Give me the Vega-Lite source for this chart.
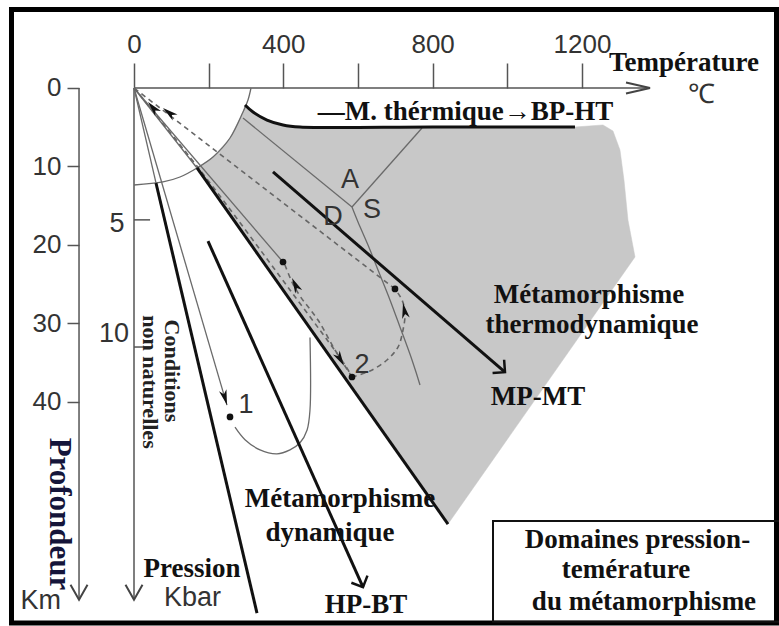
{
  "$schema": "https://vega.github.io/schema/vega-lite/v6.json",
  "width": 779,
  "height": 626,
  "autosize": {"type": "none"},
  "padding": 0,
  "background": "white",
  "config": {"view": {"stroke": null}},
  "datasets": {
    "poly": [
      {"i": 1, "x": 168.8, "y": 10.19}, {"i": 2, "x": 211.6, "y": 8.79}, {"i": 3, "x": 257.2, "y": 6.37},
      {"i": 4, "x": 292.0, "y": 3.06}, {"i": 5, "x": 297.4, "y": 2.17}, {"i": 6, "x": 318.8, "y": 3.06},
      {"i": 7, "x": 356.3, "y": 4.08}, {"i": 8, "x": 399.2, "y": 4.71}, {"i": 9, "x": 444.7, "y": 4.97},
      {"i": 10, "x": 1181.4, "y": 4.97}, {"i": 11, "x": 1256.5, "y": 4.71}, {"i": 12, "x": 1283.3, "y": 5.48},
      {"i": 13, "x": 1302.0, "y": 7.9}, {"i": 14, "x": 1312.7, "y": 11.72}, {"i": 15, "x": 1323.4, "y": 16.82},
      {"i": 16, "x": 1342.2, "y": 21.53}, {"i": 17, "x": 841.2, "y": 55.55}
    ],
    "thin": [
      {"id": "a0", "i": 1, "x": 0, "y": 0}, {"id": "a0", "i": 2, "x": 58.9, "y": 12.1},
      {"id": "d0", "i": 1, "x": 0, "y": 0}, {"id": "d0", "i": 2, "x": 168.8, "y": 10.19},
      {"id": "b", "i": 1, "x": 0, "y": 0}, {"id": "b", "i": 2, "x": 249.1, "y": 40.4},
      {"id": "e", "i": 1, "x": 0, "y": 0}, {"id": "e", "i": 2, "x": 399.2, "y": 22.17},
      {"id": "arc", "i": 1, "x": 313.4, "y": 0}, {"id": "arc", "i": 2, "x": 305.4, "y": 1.53},
      {"id": "arc", "i": 3, "x": 292.0, "y": 3.06}, {"id": "arc", "i": 4, "x": 257.2, "y": 6.37},
      {"id": "arc", "i": 5, "x": 211.6, "y": 8.79}, {"id": "arc", "i": 6, "x": 168.8, "y": 10.19},
      {"id": "arc", "i": 7, "x": 123.2, "y": 11.34}, {"id": "arc", "i": 8, "x": 77.7, "y": 11.97},
      {"id": "arc", "i": 9, "x": 0, "y": 12.36},
      {"id": "as", "i": 1, "x": 292, "y": 3.82}, {"id": "as", "i": 2, "x": 584, "y": 15.16},
      {"id": "ks", "i": 1, "x": 584, "y": 15.16}, {"id": "ks", "i": 2, "x": 771.6, "y": 5.1},
      {"id": "sd", "i": 1, "x": 584, "y": 15.16}, {"id": "sd", "i": 2, "x": 600.1, "y": 17.07},
      {"id": "sd", "i": 3, "x": 626.9, "y": 20.0}, {"id": "sd", "i": 4, "x": 653.7, "y": 23.19},
      {"id": "sd", "i": 5, "x": 685.8, "y": 27.0}, {"id": "sd", "i": 6, "x": 712.6, "y": 30.45},
      {"id": "sd", "i": 7, "x": 744.8, "y": 34.65}, {"id": "sd", "i": 8, "x": 766.2, "y": 37.84},
      {"id": "r1", "i": 1, "x": 270.6, "y": 43.2}, {"id": "r1", "i": 2, "x": 297.4, "y": 44.8},
      {"id": "r1", "i": 3, "x": 337.6, "y": 46.1}, {"id": "r1", "i": 4, "x": 383.1, "y": 46.6},
      {"id": "r1", "i": 5, "x": 417.9, "y": 46.1}, {"id": "r1", "i": 6, "x": 444.7, "y": 45.2},
      {"id": "r1", "i": 7, "x": 463.5, "y": 43.6}, {"id": "r1", "i": 8, "x": 471.5, "y": 41.0},
      {"id": "r1", "i": 9, "x": 471.5, "y": 31.8}
    ],
    "dash": [
      {"id": "pA", "i": 1, "x": 0, "y": 0}, {"id": "pA", "i": 2, "x": 176.8, "y": 10.45},
      {"id": "pA", "i": 3, "x": 417.9, "y": 25.73}, {"id": "pA", "i": 4, "x": 565.3, "y": 35.29},
      {"id": "pA", "i": 5, "x": 584, "y": 36.82},
      {"id": "pB", "i": 1, "x": 584, "y": 36.82}, {"id": "pB", "i": 2, "x": 538.5, "y": 33.38},
      {"id": "pB", "i": 3, "x": 492.9, "y": 29.56}, {"id": "pB", "i": 4, "x": 444.7, "y": 26.5},
      {"id": "pB", "i": 5, "x": 423.3, "y": 24.72}, {"id": "pB", "i": 6, "x": 404.5, "y": 22.55},
      {"id": "pC", "i": 1, "x": 584, "y": 36.82}, {"id": "pC", "i": 2, "x": 632.2, "y": 36.05},
      {"id": "pC", "i": 3, "x": 677.8, "y": 34.65}, {"id": "pC", "i": 4, "x": 707.3, "y": 33.0},
      {"id": "pC", "i": 5, "x": 720.7, "y": 30.83}, {"id": "pC", "i": 6, "x": 726, "y": 28.67},
      {"id": "pC", "i": 7, "x": 718, "y": 27.0}, {"id": "pC", "i": 8, "x": 699.2, "y": 25.6},
      {"id": "pD", "i": 1, "x": 699.2, "y": 25.6}, {"id": "pD", "i": 2, "x": 0, "y": 0}
    ],
    "thick": [
      {"id": "a", "i": 1, "x": 58.9, "y": 12.1}, {"id": "a", "i": 2, "x": 329.5, "y": 66.9},
      {"id": "c", "i": 1, "x": 198.2, "y": 19.5}, {"id": "c", "i": 2, "x": 613.5, "y": 63.6},
      {"id": "d", "i": 1, "x": 168.8, "y": 10.19}, {"id": "d", "i": 2, "x": 841.2, "y": 55.55},
      {"id": "g", "i": 1, "x": 372.4, "y": 10.7}, {"id": "g", "i": 2, "x": 993.9, "y": 36.2},
      {"id": "top", "i": 1, "x": 297.4, "y": 2.17}, {"id": "top", "i": 2, "x": 318.8, "y": 3.06},
      {"id": "top", "i": 3, "x": 356.3, "y": 4.08}, {"id": "top", "i": 4, "x": 399.2, "y": 4.71},
      {"id": "top", "i": 5, "x": 444.7, "y": 4.97}, {"id": "top", "i": 6, "x": 800, "y": 4.97},
      {"id": "top", "i": 7, "x": 1181.4, "y": 4.97}
    ],
    "segs": [
      {"x": 0, "y": 0, "x2": 1382.4, "y2": 0},
      {"x": -147.3, "y": 0, "x2": -147.3, "y2": 65.2},
      {"x": 0, "y": 0, "x2": 0, "y2": 65.2},
      {"x": 0, "y": 16.8, "x2": 43, "y2": 16.8},
      {"x": 0, "y": 33.0, "x2": 43, "y2": 33.0}
    ],
    "axisHeads": [
      {"x": -147.3, "y": 65.2, "heading": 180},
      {"x": 0, "y": 65.2, "heading": 180}
    ],
    "tempHead": [{"x": 1382.4, "y": 0, "heading": 90}],
    "thickHeads": [
      {"x": 613.5, "y": 63.6, "heading": 156},
      {"x": 993.9, "y": 36.2, "heading": 131}
    ],
    "pathHeads": [
      {"x": 249.1, "y": 40.4, "heading": 164},
      {"x": 562.6, "y": 35.4, "heading": 150},
      {"x": 423.3, "y": 24.2, "heading": 334},
      {"x": 720.7, "y": 27.4, "heading": 349},
      {"x": 37.5, "y": 1.78, "heading": 319},
      {"x": 77.7, "y": 2.55, "heading": 308}
    ],
    "dots": [
      {"x": 399.2, "y": 22.17}, {"x": 699.2, "y": 25.6}, {"x": 584, "y": 36.82}, {"x": 257.2, "y": 41.9}
    ],
    "frame": [{"x": -328.2, "x2": 1721.3, "y": -10.0, "y2": 68.16}],
    "box": [{"x": 961.8, "x2": 1740, "y": 55.16, "y2": 68.0}],
    "serif": [
      {"t": "Température", "x": 1473.5, "y": -2.17},
      {"t": "—M. thérmique→BP-HT", "x": 888.1, "y": 4.08},
      {"t": "Métamorphisme", "x": 1218.9, "y": 27.39},
      {"t": "thermodynamique", "x": 1227, "y": 31.21},
      {"t": "MP-MT", "x": 1082.3, "y": 40.38},
      {"t": "Métamorphisme", "x": 551.9, "y": 53.38},
      {"t": "dynamique", "x": 525.1, "y": 57.71},
      {"t": "HP-BT", "x": 621.5, "y": 66.88},
      {"t": "Pression", "x": 155.4, "y": 62.29},
      {"t": "Domaines pression-", "x": 1348.9, "y": 58.6},
      {"t": "temérature", "x": 1318.1, "y": 62.42},
      {"t": "du métamorphisme", "x": 1366.3, "y": 66.5}
    ],
    "sans": [
      {"t": "1", "x": 300, "y": 40.4},
      {"t": "2", "x": 610.8, "y": 35.29},
      {"t": "A", "x": 578.7, "y": 11.72},
      {"t": "D", "x": 533.1, "y": 16.43},
      {"t": "S", "x": 637.6, "y": 15.54},
      {"t": "5", "x": -45.5, "y": 17.32},
      {"t": "10", "x": -53.6, "y": 31.34},
      {"t": "Kbar", "x": 156.7, "y": 65.03},
      {"t": "Km", "x": -249.9, "y": 65.41},
      {"t": "℃", "x": 1521.7, "y": 0.89}
    ],
    "prof": [{"t": "Profondeur", "x": -200.9, "y": 54.27}],
    "cond": [
      {"t": "Conditions", "x": 101.8, "y": 36.05},
      {"t": "non naturelles", "x": 42.9, "y": 37.45}
    ]
  },
  "encoding": {
    "x": {
      "field": "x", "type": "quantitative",
      "scale": {"domain": [-359, 1728], "nice": false, "zero": false},
      "axis": {
        "orient": "top", "offset": -88, "values": [0, 200, 400, 600, 800, 1000, 1200],
        "format": "d", "labelExpr": "datum.value % 400 === 0 ? datum.label : ''",
        "tickSize": 25, "tickWidth": 1.5, "tickColor": "#555", "domain": false, "grid": false,
        "labelFont": "Liberation Sans", "labelFontSize": 26, "labelColor": "#333",
        "labelPadding": 6, "labelFlush": false, "labelOverlap": false, "title": null
      }
    },
    "y": {
      "field": "y", "type": "quantitative",
      "scale": {"domain": [-11.21, 68.54], "nice": false, "zero": false, "reverse": true},
      "axis": {
        "orient": "left", "offset": -79, "values": [0, 10, 20, 30, 40],
        "tickSize": 12, "tickWidth": 1.5, "tickColor": "#555", "domain": false, "grid": false,
        "labelFont": "Liberation Sans", "labelFontSize": 26, "labelColor": "#333",
        "labelPadding": 6, "labelFlush": false, "labelOverlap": false, "title": null
      }
    }
  },
  "layer": [
    {
      "data": {"name": "poly"},
      "mark": {"type": "line", "fill": "#c8c8c8", "stroke": "#c8c8c8", "strokeWidth": 0.5, "interpolate": "linear"},
      "encoding": {"order": {"field": "i", "type": "quantitative"}}
    },
    {
      "data": {"name": "frame"},
      "mark": {"type": "rect", "fill": null, "stroke": "#000", "strokeWidth": 5},
      "encoding": {"x2": {"field": "x2"}, "y2": {"field": "y2"}}
    },
    {
      "data": {"name": "box"},
      "mark": {"type": "rect", "fill": null, "stroke": "#111", "strokeWidth": 2},
      "encoding": {"x2": {"field": "x2"}, "y2": {"field": "y2"}}
    },
    {
      "data": {"name": "segs"},
      "mark": {"type": "rule", "color": "#555", "strokeWidth": 1.5},
      "encoding": {"x2": {"field": "x2"}, "y2": {"field": "y2"}}
    },
    {
      "data": {"name": "thin"},
      "mark": {"type": "line", "color": "#6a6a6a", "strokeWidth": 1.3, "interpolate": "catmull-rom"},
      "encoding": {"detail": {"field": "id"}, "order": {"field": "i", "type": "quantitative"}}
    },
    {
      "data": {"name": "dash"},
      "mark": {"type": "line", "color": "#666", "strokeWidth": 1.6, "strokeDash": [5, 4], "interpolate": "catmull-rom"},
      "encoding": {"detail": {"field": "id"}, "order": {"field": "i", "type": "quantitative"}}
    },
    {
      "data": {"name": "thick"},
      "mark": {"type": "line", "color": "#111", "strokeWidth": 3, "interpolate": "catmull-rom"},
      "encoding": {"detail": {"field": "id"}, "order": {"field": "i", "type": "quantitative"}}
    },
    {
      "data": {"name": "dots"},
      "mark": {"type": "point", "filled": true, "color": "#111", "size": 45, "opacity": 1}
    },
    {
      "data": {"name": "axisHeads"},
      "mark": {"type": "point", "shape": "M-0.85,1.5L0,0L0.85,1.5", "filled": false, "stroke": "#444", "strokeWidth": 2, "size": 400, "opacity": 1},
      "encoding": {"angle": {"field": "heading", "type": "quantitative", "scale": null}}
    },
    {
      "data": {"name": "tempHead"},
      "mark": {"type": "point", "shape": "M-0.55,2.4L0,0L0.55,2.4", "filled": false, "stroke": "#444", "strokeWidth": 2, "size": 400, "opacity": 1},
      "encoding": {"angle": {"field": "heading", "type": "quantitative", "scale": null}}
    },
    {
      "data": {"name": "thickHeads"},
      "mark": {"type": "point", "shape": "M-1,1L0,0L1,1", "filled": false, "stroke": "#111", "strokeWidth": 2.5, "size": 310, "opacity": 1},
      "encoding": {"angle": {"field": "heading", "type": "quantitative", "scale": null}}
    },
    {
      "data": {"name": "pathHeads"},
      "mark": {"type": "point", "shape": "M0,0L0.55,2.2L0,1.6L-0.55,2.2Z", "filled": true, "color": "#111", "size": 196, "opacity": 1},
      "encoding": {"angle": {"field": "heading", "type": "quantitative", "scale": null}}
    },
    {
      "data": {"name": "serif"},
      "mark": {"type": "text", "font": "Liberation Serif", "fontWeight": "bold", "fontSize": 27, "align": "center", "baseline": "alphabetic", "color": "#111"},
      "encoding": {"text": {"field": "t"}}
    },
    {
      "data": {"name": "sans"},
      "mark": {"type": "text", "font": "Liberation Sans", "fontSize": 27, "align": "center", "baseline": "middle", "color": "#333"},
      "encoding": {"text": {"field": "t"}}
    },
    {
      "data": {"name": "prof"},
      "mark": {"type": "text", "font": "Liberation Serif", "fontWeight": "bold", "fontSize": 31, "align": "center", "baseline": "middle", "angle": 90, "color": "#15153a"},
      "encoding": {"text": {"field": "t"}}
    },
    {
      "data": {"name": "cond"},
      "mark": {"type": "text", "font": "Liberation Serif", "fontWeight": "bold", "fontSize": 22, "align": "center", "baseline": "middle", "angle": 90, "color": "#222"},
      "encoding": {"text": {"field": "t"}}
    }
  ]
}
